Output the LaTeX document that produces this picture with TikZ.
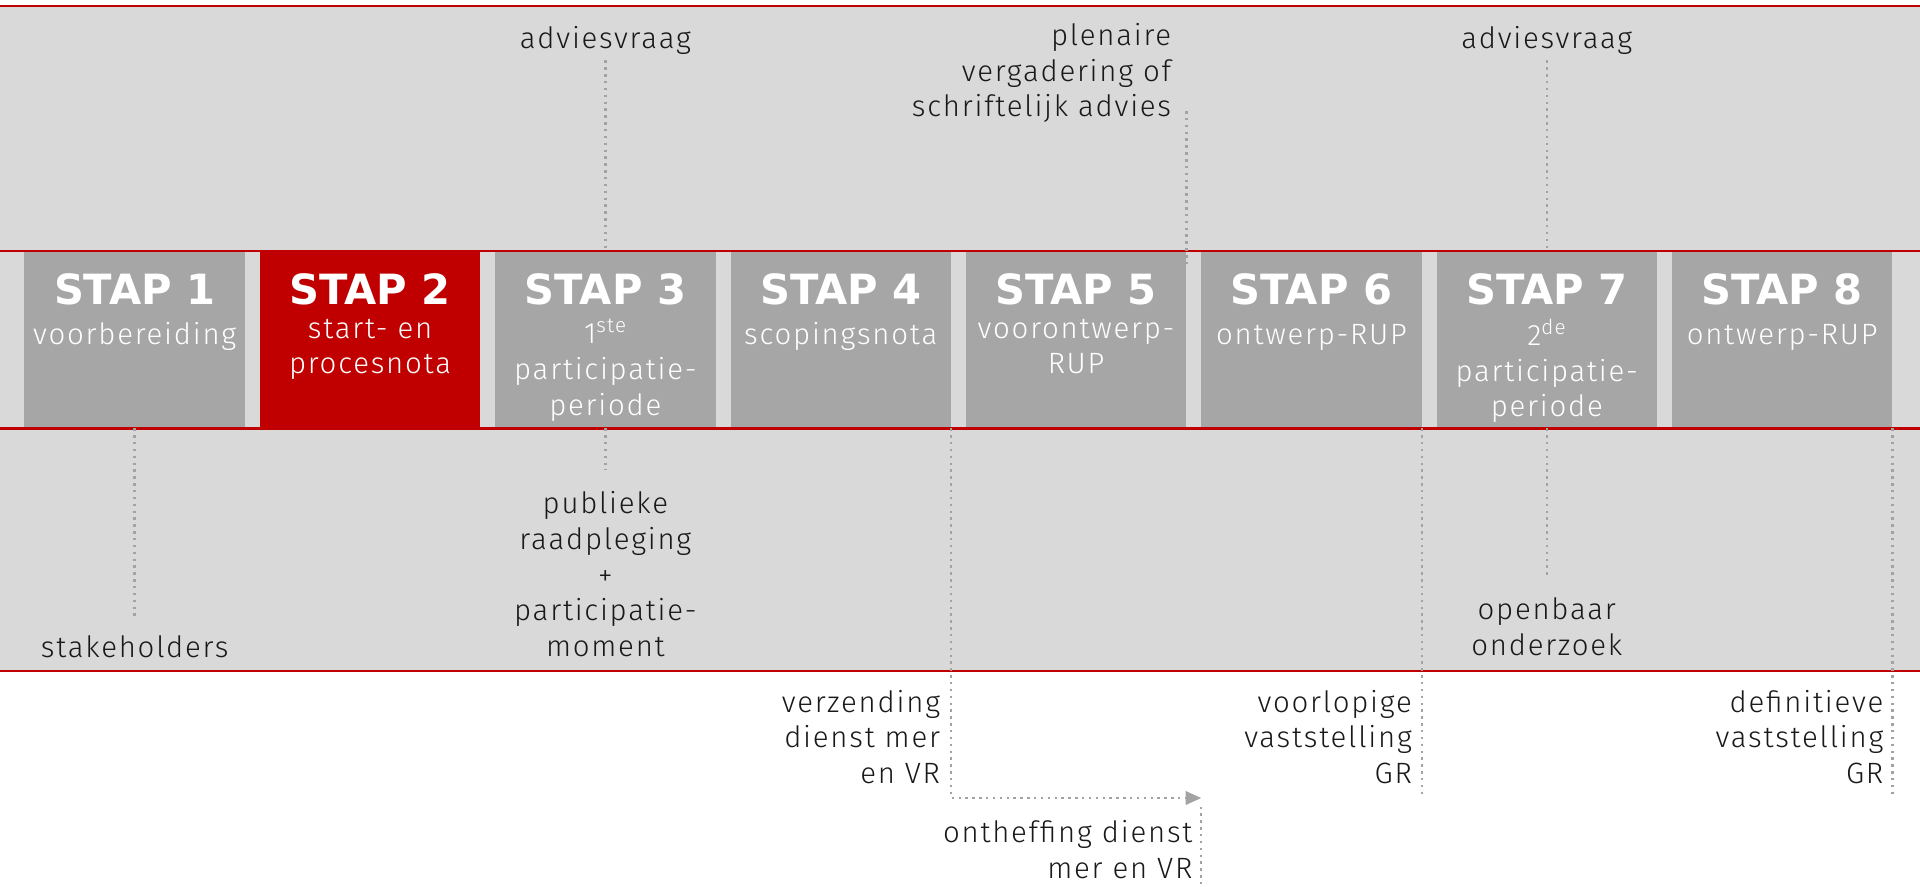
\documentclass[tikz,border=0pt]{standalone}
\usepackage{fontspec}
\setmainfont{Fira Sans Light}[LetterSpace=6]
\newfontfamily\stapfont{DejaVu Sans}
\usetikzlibrary{calc,arrows.meta}
\definecolor{band}{HTML}{D9D9D9}
\definecolor{stapgrijs}{HTML}{A7A6A7}
\definecolor{staprood}{HTML}{C00000}
\definecolor{lijnrood}{HTML}{C00000}
\definecolor{stipgrijs}{HTML}{A3A3A3}

\begin{document}
\begin{tikzpicture}[x=1pt,y=-1pt,
  stapbox/.style={minimum width=180pt, minimum height=144pt, inner sep=0pt},
  titel/.style={anchor=base, text=white, font=\stapfont\bfseries\fontsize{34}{36}\selectfont},
  lbl/.style={align=center, inner sep=0pt, text=black!90, font=\fontsize{24}{29.2}\selectfont, execute at begin node=\strut},
  sub/.style={lbl, anchor=north, text=white},
  rlbl/.style={lbl, anchor=north east, align=right},
  stip/.style={draw=stipgrijs, line width=2pt, dash pattern=on 2pt off 3.6pt}]
\useasboundingbox (0,0) rectangle (1568,723.6);
\fill [band] (0,5) rectangle (1568,548);
\foreach \i/\kleur/\tekst in {1/stapgrijs/voorbereiding, 2/staprood/{start- en\\procesnota}, 3/stapgrijs/{1\textsuperscript{ste}\\participatie-\\periode}, 4/stapgrijs/scopingsnota, 5/stapgrijs/{voorontwerp-\\RUP}, 6/stapgrijs/ontwerp-RUP, 7/stapgrijs/{2\textsuperscript{de}\\participatie-\\periode}, 8/stapgrijs/ontwerp-RUP}{
  \node [stapbox, fill=\kleur] (s\i) at ({110+192.2*(\i-1)},277.5) {};
  \node [titel] (t\i) at ($(s\i.north)+(0,43.7)$) {STAP \i};
  \node [sub] (o\i) at ($(s\i.north)+(0,55)$) {\tekst};
}
\foreach \y in {5,205,350,548} \draw [lijnrood, line width=1.8pt] (0,\y) -- (1568,\y);

\node [lbl, anchor=north] (adv3) at ($(s3.north)+(0,-186.6)$) {adviesvraag};
\node [lbl, anchor=north] (adv7) at ($(s7.north)+(0,-186.6)$) {adviesvraag};
\node [rlbl] (plen) at ($(s5.north east)+(-12.4,-186.6)$) {plenaire\\vergadering of\\schriftelijk advies};
\node [lbl, anchor=north] (raad) at ($(s3.south)+(0,51.4)$) {publieke\\raadpleging\\+\\participatie-\\moment};
\node [lbl, anchor=north] (stake) at ($(s1.south)+(0,167)$) {stakeholders};
\node [lbl, anchor=north] (open) at ($(s7.south)+(0,138)$) {openbaar\\onderzoek};
\node [rlbl] (verz) at ($(s4.south east)+(-8.9,213.5)$) {verzending\\dienst mer\\en VR};
\node [rlbl] (voorl) at ($(s6.south east)+(-8,213.5)$) {voorlopige\\vaststelling\\GR};
\node [rlbl] (defin) at ($(s8.south east)+(-7.4,213.5)$) {definitieve\\vaststelling\\GR};
\node [rlbl] (onth) at ($(s5.south east)+(5,320)$) {ontheffing dienst\\mer en VR};

\draw [stip] ($(adv3.south)+(0,1)$) -- (s3.north);
\draw [stip] ($(adv7.south)+(0,1)$) -- (s7.north);
\draw [stip] ($(s5.north east |- plen.north)+(0,72)$) -- ($(s5.north east)+(0,12.5)$);
\draw [stip] (s1.south) -- ($(stake.north)+(0,-12.5)$);
\draw [stip] (s3.south) -- ($(raad.north)+(0,-17.5)$);
\draw [stip] (s7.south) -- ($(open.north)+(0,-17)$);
\coordinate (pijl) at ($(onth.north east)+(7,-18)$);
\draw [stip, -{Triangle[length=12.8pt,width=11pt]}] (s4.south east) |- (pijl);
\draw [stip] ($(pijl)+(0,7)$) -- ($(pijl)+(0,72)$);
\draw [stip] (s6.south east) -- ($(s6.south east)+(0,301)$);
\draw [stip] (s8.south east) -- ($(s8.south east)+(0,301)$);
\end{tikzpicture}
\end{document}
